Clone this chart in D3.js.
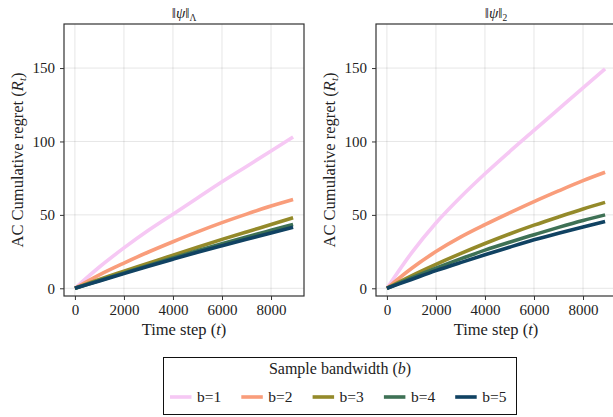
<!DOCTYPE html>
<meta charset="utf-8">
<style>
body { margin: 0; background: #fff; }
text { font-family: 'Liberation Serif', 'Times New Roman', serif; fill: #222; }
.grid line { stroke: #000; stroke-opacity: 0.1; }
.axis path, .axis line { stroke: #333; }
</style>
<body>
<svg width="613" height="417"></svg>
<script src="https://d3js.org/d3.v7.min.js"></script>
<script>

// time steps where values were read
var steps = [0, 1000, 2000, 3000, 4000, 5000, 6000, 7000, 8000, 8900];

var labels = ["b=1", "b=2", "b=3", "b=4", "b=5"];
var colors = ["#f6c8f4", "#f99d7b", "#948a2a", "#3e7155", "#104262"];

// ||psi||_Lambda panel
var lamB1 = [0, 14.5, 27.5, 39.5, 50.5, 61.5, 72.5, 83, 93.5, 103];
var lamB2 = [0, 9.2, 17.2, 24.7, 31.7, 38.4, 44.7, 50.5, 56, 60.5];
var lamB3 = [0, 6, 11.6, 17.1, 22.6, 28, 33.3, 38.4, 43.4, 48];
var lamB4 = [0, 5.3, 10.5, 15.6, 20.6, 25.5, 30.3, 35, 39.5, 43.5];
var lamB5 = [0, 5, 10, 15, 19.8, 24.5, 29, 33.4, 37.6, 41.5];

// ||psi||_2 panel
var twoB1 = [0, 24, 44.5, 62, 78, 93, 107.5, 122, 136.5, 149.5];
var twoB2 = [0, 13.5, 25, 34.8, 43.3, 51.3, 59, 66.3, 73.3, 79];
var twoB3 = [0, 8.5, 16.3, 23.6, 30.5, 37, 43, 48.6, 54, 58.5];
var twoB4 = [0, 7, 13.7, 20, 26, 31.4, 36.5, 41.5, 46.2, 50];
var twoB5 = [0, 6, 12, 17.5, 22.8, 28, 33, 37.5, 41.7, 45.5];

var xTicks = [0, 2000, 4000, 6000, 8000];
var yTicks = [0, 50, 100, 150];

var svg = d3.select("svg");

var panels = [
  {x0: 64, sub: "Λ", series: [lamB1, lamB2, lamB3, lamB4, lamB5]},
  {x0: 376, sub: "2", series: [twoB1, twoB2, twoB3, twoB4, twoB5]}
];

var plotTop = 24, plotBottom = 296, pw = 240;

panels.forEach(function(p) {
  var x = d3.scaleLinear().domain([-445, 9345]).range([p.x0, p.x0 + pw]);
  var y = d3.scaleLinear().domain([-5.25, 180]).range([plotBottom, plotTop]);

  var g = svg.append("g");

  g.append("g").attr("class", "grid")
    .selectAll("line").data(xTicks).enter().append("line")
      .attr("x1", x).attr("x2", x).attr("y1", plotTop).attr("y2", plotBottom);
  g.append("g").attr("class", "grid")
    .selectAll("line").data(yTicks).enter().append("line")
      .attr("y1", y).attr("y2", y).attr("x1", p.x0).attr("x2", p.x0 + pw);

  var line = d3.line()
      .x(function(d, i) { return x(steps[i]); })
      .y(function(d) { return y(d); })
      .curve(d3.curveMonotoneX);

  p.series.forEach(function(s, i) {
    g.append("path")
      .attr("d", line(s))
      .attr("fill", "none")
      .attr("stroke", colors[i])
      .attr("stroke-width", 3.6)
      .attr("stroke-linecap", "butt");
  });

  g.append("rect")
    .attr("x", p.x0).attr("y", plotTop).attr("width", pw).attr("height", plotBottom - plotTop)
    .attr("fill", "none").attr("stroke", "#333").attr("stroke-width", 1.2);

  var xa = g.append("g").attr("class", "axis")
    .attr("transform", "translate(0," + plotBottom + ")")
    .call(d3.axisBottom(x).tickValues(xTicks).tickSize(4).tickPadding(4).tickFormat(d3.format("d")));
  var ya = g.append("g").attr("class", "axis")
    .attr("transform", "translate(" + p.x0 + ",0)")
    .call(d3.axisLeft(y).tickValues(yTicks).tickSize(4).tickPadding(5));
  [xa, ya].forEach(function(a) {
    a.select(".domain").remove();
    a.selectAll("text").style("font-family", "'Liberation Serif', serif")
      .style("font-size", "15px").attr("fill", "#222");
  });

  var cx = p.x0 + pw / 2;
  var t = g.append("text").attr("x", cx).attr("y", 18)
    .attr("text-anchor", "middle").style("font-size", "15px");
  t.append("tspan").text("‖");
  t.append("tspan").style("font-style", "italic").text("ψ");
  t.append("tspan").text("‖");
  t.append("tspan").attr("dy", 3).style("font-size", "9.5px").text(p.sub);

  var xl = g.append("text").attr("x", cx).attr("y", 335)
    .attr("text-anchor", "middle").style("font-size", "16.5px");
  xl.append("tspan").text("Time step (");
  xl.append("tspan").style("font-style", "italic").text("t");
  xl.append("tspan").text(")");

  var yl = g.append("text")
    .attr("transform", "translate(" + (p.x0 - 41) + "," + ((plotTop + plotBottom) / 2) + ") rotate(-90)")
    .attr("text-anchor", "middle").style("font-size", "16.5px");
  yl.append("tspan").text("AC Cumulative regret (");
  yl.append("tspan").style("font-style", "italic").text("R");
  yl.append("tspan").style("font-style", "italic").style("font-size", "11px").attr("dy", 3).text("t");
  yl.append("tspan").attr("dy", -3).text(")");
});

// legend
var lg = svg.append("g");
lg.append("rect").attr("x", 163.5).attr("y", 357.5).attr("width", 353).attr("height", 57)
  .attr("fill", "#fff").attr("stroke", "#111").attr("stroke-width", 1);
var lt = lg.append("text").attr("x", 340).attr("y", 374)
  .attr("text-anchor", "middle").style("font-size", "16px");
lt.append("tspan").text("Sample bandwidth (");
lt.append("tspan").style("font-style", "italic").text("b");
lt.append("tspan").text(")");

var item = lg.selectAll(".item").data(labels).enter().append("g")
  .attr("transform", function(d, i) { return "translate(" + (170 + i * 71.3) + ",397)"; });
item.append("line").attr("x1", 0).attr("x2", 21.5)
  .attr("stroke", function(d, i) { return colors[i]; }).attr("stroke-width", 3.6);
item.append("text").attr("x", 27).attr("y", 5).style("font-size", "15.5px")
  .text(function(d) { return d; });

</script>
